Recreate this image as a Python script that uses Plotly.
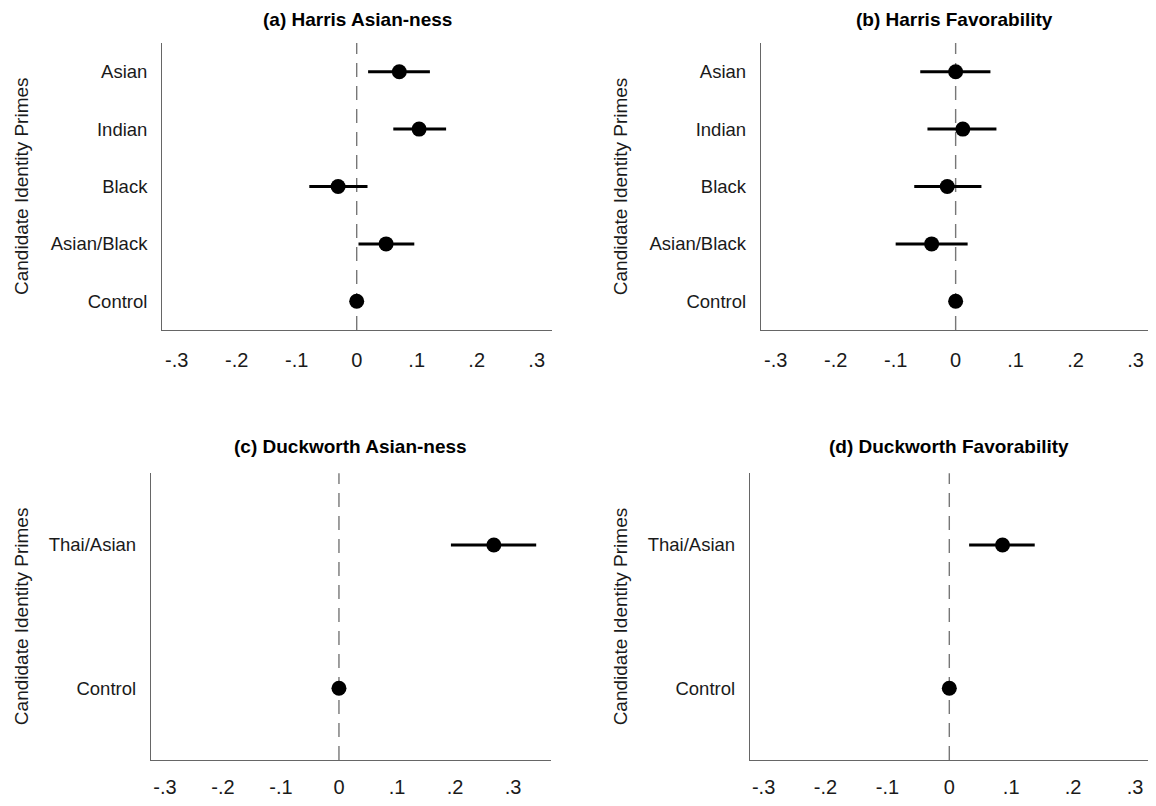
import plotly.graph_objects as go

# The page adds an 8px body margin, so the figure is drawn 8px in from the window edge.
OFF = 8
W, H = 1156 - 2 * OFF, 806 - 2 * OFF

# ---------------- data ----------------
harris_cats = ["Control", "Asian/Black", "Black", "Indian", "Asian"]
harris_asianness_est = [0.0, 0.049, -0.031, 0.104, 0.071]
harris_asianness_lo = [0.0, 0.003, -0.079, 0.061, 0.019]
harris_asianness_hi = [0.0, 0.096, 0.018, 0.149, 0.122]

harris_fav_est = [0.0, -0.040, -0.014, 0.012, 0.0]
harris_fav_lo = [0.0, -0.100, -0.069, -0.047, -0.059]
harris_fav_hi = [0.0, 0.020, 0.043, 0.068, 0.058]

duck_cats = ["Control", "Thai/Asian"]
duck_asianness_est = [0.0, 0.267]
duck_asianness_lo = [0.0, 0.193]
duck_asianness_hi = [0.0, 0.340]

duck_fav_est = [0.0, 0.086]
duck_fav_lo = [0.0, 0.032]
duck_fav_hi = [0.0, 0.138]

tick_vals = [-0.3, -0.2, -0.1, 0, 0.1, 0.2, 0.3]
tick_text = ["-.3", "-.2", "-.1", "0", ".1", ".2", ".3"]

titles = ["(a) Harris Asian-ness", "(b) Harris Favorability",
          "(c) Duckworth Asian-ness", "(d) Duckworth Favorability"]
y_title = "Candidate Identity Primes"

# ---------------- layout geometry (window pixels) ----------------
panels = [
    dict(est=harris_asianness_est, lo=harris_asianness_lo, hi=harris_asianness_hi,
         cats=harris_cats, px=(162.3, 551.7), py=(43, 330), xr=[-0.324, 0.325], title_y=19.5, tl=12),
    dict(est=harris_fav_est, lo=harris_fav_lo, hi=harris_fav_hi,
         cats=harris_cats, px=(761, 1148), py=(43, 330), xr=[-0.3245, 0.3207], title_y=19.5, tl=12),
    dict(est=duck_asianness_est, lo=duck_asianness_lo, hi=duck_asianness_hi,
         cats=duck_cats, px=(151, 550.7), py=(473.3, 760), xr=[-0.324, 0.365], title_y=447, tl=9),
    dict(est=duck_fav_est, lo=duck_fav_lo, hi=duck_fav_hi,
         cats=duck_cats, px=(750, 1148), py=(473.3, 760), xr=[-0.322, 0.321], title_y=447, tl=9),
]


def fx(px):
    return min(1.0, (px - OFF) / W)


def fy(py):
    return 1 - (py - OFF) / H


FONT = "Liberation Sans, Arial, sans-serif"
fig = go.Figure()
annotations = []
shapes = []

for i, p in enumerate(panels, start=1):
    xa = "x" if i == 1 else f"x{i}"
    ya = "y" if i == 1 else f"y{i}"
    err_plus = [h - e for h, e in zip(p["hi"], p["est"])]
    err_minus = [e - l for e, l in zip(p["est"], p["lo"])]
    fig.add_trace(go.Scatter(
        x=p["est"], y=p["cats"], mode="markers",
        marker=dict(color="black", size=15),
        error_x=dict(type="data", symmetric=False, array=err_plus, arrayminus=err_minus,
                     color="black", thickness=3, width=0),
        xaxis=xa, yaxis=ya, showlegend=False, hoverinfo="skip",
    ))
    xdom = [fx(p["px"][0]), fx(p["px"][1])]
    ydom = [fy(p["py"][1]), fy(p["py"][0])]
    key = "" if i == 1 else str(i)
    fig.update_layout(**{
        f"xaxis{key}": dict(
            domain=xdom, anchor=ya, range=p["xr"], tickvals=tick_vals, ticktext=tick_text,
            showgrid=False, zeroline=False, showline=True, linecolor="#666666", linewidth=1.4,
            ticks="outside", ticklen=p["tl"], tickcolor="rgba(0,0,0,0)",
            tickfont=dict(family=FONT, size=20, color="#1a1a1a"), automargin=False, fixedrange=True,
        ),
        f"yaxis{key}": dict(
            domain=ydom, anchor=xa, type="category", categoryorder="array",
            categoryarray=p["cats"], range=[-0.5, len(p["cats"]) - 0.5],
            showgrid=False, zeroline=False, showline=True, linecolor="#666666", linewidth=1.4,
            ticks="outside", ticklen=10, tickcolor="rgba(0,0,0,0)",
            tickfont=dict(family=FONT, size=18.5, color="#1a1a1a"), automargin=False, fixedrange=True,
        ),
    })
    shapes.append(dict(type="line", xref=xa, yref=f"{ya} domain", x0=0, x1=0, y0=0, y1=1,
                       line=dict(color="#777777", width=1.4, dash="14px,9px"), layer="below"))
    annotations.append(dict(text=f"<b>{titles[i-1]}</b>", xref="paper", yref="paper",
                            x=(xdom[0] + xdom[1]) / 2, y=fy(p["title_y"]),
                            xanchor="center", yanchor="middle", showarrow=False,
                            font=dict(family=FONT, size=19, color="black")))
    ytx = 21.5 if i in (1, 3) else 620.7
    annotations.append(dict(text=y_title, xref="paper", yref="paper",
                            x=fx(ytx), y=(ydom[0] + ydom[1]) / 2, textangle=-90,
                            xanchor="center", yanchor="middle", showarrow=False,
                            font=dict(family=FONT, size=19, color="#1a1a1a")))

fig.update_layout(
    width=W, height=H, margin=dict(l=0, r=0, t=0, b=0),
    paper_bgcolor="white", plot_bgcolor="white",
    shapes=shapes, annotations=annotations, showlegend=False,
)

fig.write_html("out.html")
